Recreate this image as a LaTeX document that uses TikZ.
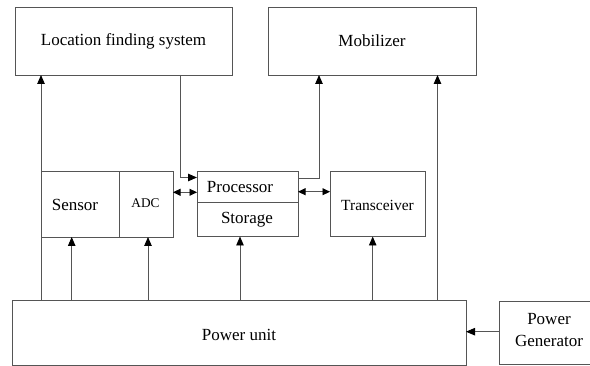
\documentclass[tikz,border=0pt]{standalone}
\usepackage{fontspec}
\setmainfont{Liberation Serif}
\usetikzlibrary{arrows.meta}
\definecolor{ln}{RGB}{85,85,85}
\tikzset{
  box/.style={draw=ln, line width=0.9pt, inner sep=0pt, outer sep=0pt, anchor=north west},
  lbl/.style={inner sep=0pt, font=\fontsize{17}{21}\selectfont, align=center},
  arr/.style={draw=ln, line width=0.9pt, -{Triangle[length=9pt,width=7.5pt,color=black]}},
  darr/.style={draw=ln, line width=0.9pt, {Triangle[length=7.5pt,width=7pt,color=black]}-{Triangle[length=7.5pt,width=7pt,color=black]}}
}
\begin{document}
\begin{tikzpicture}[x=1pt,y=-1pt]
\clip (0,0) rectangle (590,366);
% boxes
\node[box, minimum width=217pt, minimum height=68pt] (loc) at (15,7) {};
\node[lbl] (loct) at (123.5,41) {Location finding system};
\node[box, minimum width=208pt, minimum height=68pt] (mob) at (268,7) {};
\node[lbl] (mobt) at (372,41) {Mobilizer};
\node[box, minimum width=78pt, minimum height=66pt] (sens) at (41,171) {};
\node[lbl] (senst) at (75,205) {Sensor};
\node[box, minimum width=54pt, minimum height=66pt] (adc) at (119,171) {};
\node[lbl, font=\fontsize{13.3}{16}\selectfont] (adct) at (145.5,203.5) {ADC};
\node[box, minimum width=101pt, minimum height=31pt] (proc) at (197,171) {};
\node[lbl] (proct) at (240,187) {Processor};
\node[box, minimum width=101pt, minimum height=34.5pt] (stor) at (197,202) {};
\node[lbl] (stort) at (247,219.5) {Storage};
\node[box, minimum width=95.5pt, minimum height=65.5pt] (trans) at (330,171) {};
\node[lbl, font=\fontsize{15.5}{18}\selectfont] (transt) at (377.5,205) {Transceiver};
\node[box, minimum width=453.3pt, minimum height=64.3pt] (pu) at (12.7,300.7) {};
\node[lbl] (put) at (239,335) {Power unit};
\node[box, minimum width=100pt, minimum height=63.5pt] (pg) at (499,301) {};
\node[lbl, font=\fontsize{17}{21.5}\selectfont] (pgt) at (549,330) {Power\\Generator};
% coordinates for connector positions
\coordinate (xs) at (71.7,0);
\coordinate (xa) at (148,0);
\coordinate (xst) at (240,0);
\coordinate (xt) at (372.7,0);
\coordinate (xm) at (437.5,0);
\coordinate (xl) at (180.7,0);
\coordinate (xpm) at (319,0);
\coordinate (yg) at (0,331.7);
\coordinate (ylp) at (0,177.5);
\coordinate (ypm) at (0,178);
\coordinate (yd1) at (0,192.3);
\coordinate (yd2) at (0,191.7);
% connectors
\draw[arr] (sens.west |- pu.north) -- (sens.west |- loc.south);
\draw[arr] (pu.north -| xs) -- (sens.south -| xs);
\draw[arr] (pu.north -| xa) -- (adc.south -| xa);
\draw[arr] (pu.north -| xst) -- (stor.south -| xst);
\draw[arr] (pu.north -| xt) -- (trans.south -| xt);
\draw[arr] (pu.north -| xm) -- (mob.south -| xm);
\draw[arr] (pg.west |- yg) -- (pu.east |- yg);
\draw[arr] (loc.south -| xl) |- (proc.west |- ylp);
\draw[arr] (proc.east |- ypm) -| (mob.south -| xpm);
\draw[darr] (adc.east |- yd1) -- (proc.west |- yd1);
\draw[darr] (proc.east |- yd2) -- (trans.west |- yd2);
\end{tikzpicture}
\end{document}
